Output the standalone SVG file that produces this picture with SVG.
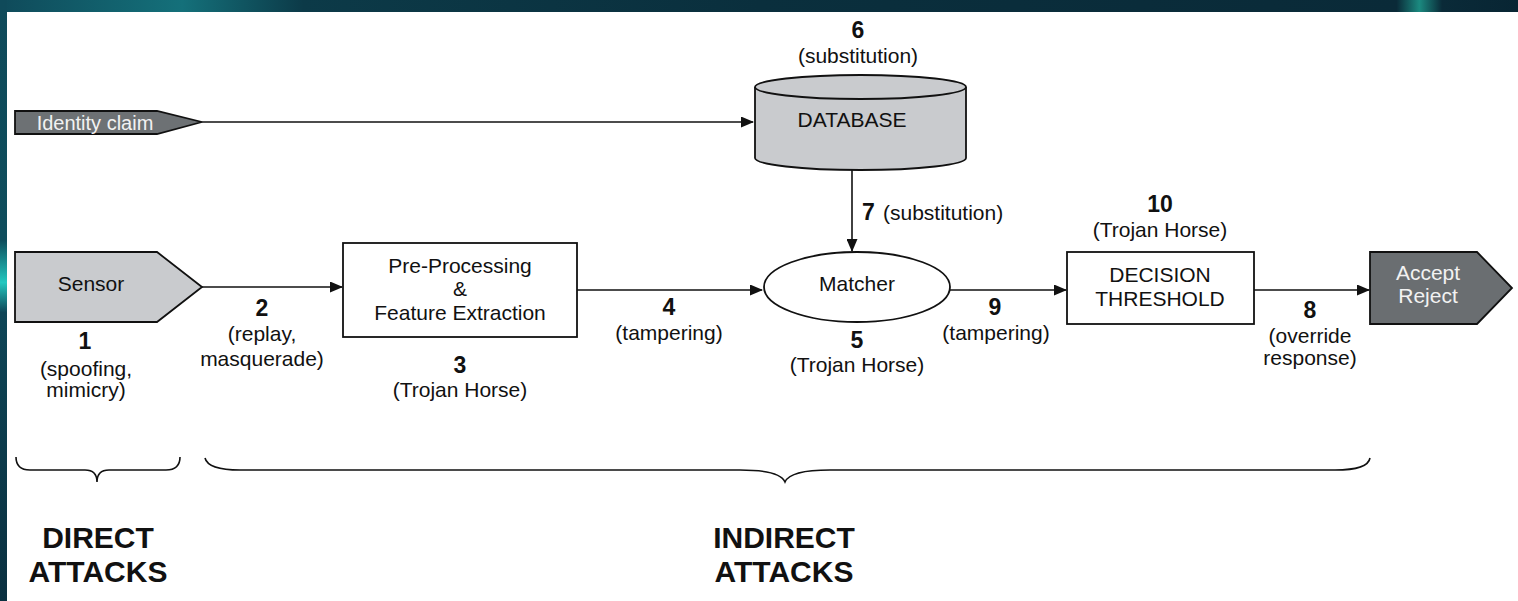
<svg xmlns="http://www.w3.org/2000/svg" width="1518" height="601" viewBox="0 0 1518 601">
<defs>
<marker id="arr" markerWidth="13" markerHeight="11" refX="12" refY="5.5" orient="auto" markerUnits="userSpaceOnUse">
<path d="M0,0 L13,5.5 L0,11 Z" fill="#111"/>
</marker>
<linearGradient id="band" x1="0" y1="0" x2="1" y2="0">
<stop offset="0" stop-color="#0f4a5a"/>
<stop offset="0.12" stop-color="#14707a"/>
<stop offset="0.2" stop-color="#0c3a48"/>
<stop offset="0.5" stop-color="#0a2f3d"/>
<stop offset="0.92" stop-color="#0a2a38"/>
<stop offset="0.935" stop-color="#1b8a80"/>
<stop offset="0.95" stop-color="#0a2a38"/>
<stop offset="1" stop-color="#082533"/>
</linearGradient>
<linearGradient id="side" x1="0" y1="0" x2="0" y2="1">
<stop offset="0" stop-color="#0f4a5a"/>
<stop offset="0.4" stop-color="#0e4d5c"/>
<stop offset="0.47" stop-color="#22c8c0"/>
<stop offset="0.52" stop-color="#0e4556"/>
<stop offset="1" stop-color="#0a3040"/>
</linearGradient>
<style>
text{font-family:"Liberation Sans",Arial,sans-serif;fill:#111;}
.lbl{font-size:21px;text-anchor:middle;}
.num{font-size:23px;font-weight:bold;text-anchor:middle;}
.big{font-size:30px;font-weight:bold;text-anchor:middle;}
.wt{fill:#f2f2f2;}
.edge{stroke:#111;stroke-width:1.6;fill:none;}
.node{stroke:#111;stroke-width:1.8;}
</style>
</defs>
<rect width="1518" height="601" fill="#ffffff"/>
<rect x="0" y="0" width="1518" height="12" fill="url(#band)"/>
<rect x="0" y="0" width="7" height="601" fill="url(#side)"/>

<g id="connectors">
<line class="edge" x1="202" y1="122" x2="753" y2="122" marker-end="url(#arr)"/>
<line class="edge" x1="852" y1="170" x2="852" y2="251" marker-end="url(#arr)"/>
<line class="edge" x1="202" y1="287" x2="342" y2="287" marker-end="url(#arr)"/>
<line class="edge" x1="577" y1="290" x2="762" y2="290" marker-end="url(#arr)"/>
<line class="edge" x1="950" y1="290" x2="1066" y2="290" marker-end="url(#arr)"/>
<line class="edge" x1="1254" y1="290" x2="1369" y2="290" marker-end="url(#arr)"/>
</g>

<g id="identity">
<path class="node" d="M15,111 L157,111 L202,122 L157,134 L15,134 Z" fill="#6d7174"/>
<text class="lbl wt" x="95" y="130" style="font-size:20px">Identity claim</text>
</g>

<g id="database">
<path class="node" d="M755,87 L755,158 A105.5,12 0 0 0 966,158 L966,87" fill="#c9cbce"/>
<ellipse class="node" cx="860.5" cy="87" rx="105.5" ry="12" fill="#c9cbce"/>
<text class="lbl" x="852" y="127">DATABASE</text>
<text class="num" x="858" y="38">6</text>
<text class="lbl" x="858" y="63">(substitution)</text>
<text x="862" y="220" style="font-size:23px;font-weight:bold">7</text>
<text x="883" y="220" style="font-size:21px">(substitution)</text>
</g>

<g id="sensor">
<path class="node" d="M15,252 L157,252 L202,287 L157,322 L15,322 Z" fill="#c9cbce"/>
<text class="lbl" x="91" y="291">Sensor</text>
<text class="num" x="85" y="349">1</text>
<text class="lbl" x="86" y="376">(spoofing,</text>
<text class="lbl" x="86" y="397">mimicry)</text>
</g>

<g id="label2">
<text class="num" x="262" y="316">2</text>
<text class="lbl" x="262" y="341">(replay,</text>
<text class="lbl" x="262" y="366">masquerade)</text>
</g>

<g id="preprocessing">
<rect class="node" x="343" y="243" width="234" height="94" fill="#ffffff"/>
<text class="lbl" x="460" y="273">Pre-Processing</text>
<text class="lbl" x="460" y="296">&amp;</text>
<text class="lbl" x="460" y="320">Feature Extraction</text>
<text class="num" x="460" y="373">3</text>
<text class="lbl" x="460" y="397">(Trojan Horse)</text>
</g>

<g id="label4">
<text class="num" x="669" y="315">4</text>
<text class="lbl" x="669" y="340">(tampering)</text>
</g>

<g id="matcher">
<ellipse class="node" cx="857" cy="287" rx="93" ry="35" fill="#ffffff"/>
<text class="lbl" x="857" y="291">Matcher</text>
<text class="num" x="857" y="348">5</text>
<text class="lbl" x="857" y="372">(Trojan Horse)</text>
</g>

<g id="label9">
<text class="num" x="995" y="315">9</text>
<text class="lbl" x="996" y="340">(tampering)</text>
</g>

<g id="decision">
<rect class="node" x="1067" y="252" width="187" height="72" fill="#ffffff"/>
<text class="lbl" x="1160" y="282">DECISION</text>
<text class="lbl" x="1160" y="306">THRESHOLD</text>
<text class="num" x="1160" y="212">10</text>
<text class="lbl" x="1160" y="237">(Trojan Horse)</text>
</g>

<g id="label8">
<text class="num" x="1310" y="318">8</text>
<text class="lbl" x="1310" y="343">(override</text>
<text class="lbl" x="1310" y="365">response)</text>
</g>

<g id="acceptreject">
<path class="node" d="M1370,252 L1477,252 L1512,288 L1477,324 L1370,324 Z" fill="#6a6e71"/>
<text class="lbl wt" x="1428" y="280">Accept</text>
<text class="lbl wt" x="1428" y="303">Reject</text>
</g>

<g id="direct">
<path class="edge" d="M16,457 Q16,470 30,470 L85,470 Q97,470 97,482 Q97,470 109,470 L166,470 Q180,470 180,457"/>
<text class="big" x="98" y="548">DIRECT</text>
<text class="big" x="98" y="582">ATTACKS</text>
</g>

<g id="indirect">
<path class="edge" d="M205,458 Q208,470 240,470 L740,470 Q780,470 785,482 Q790,470 830,470 L1335,470 Q1368,470 1370,458"/>
<text class="big" x="784" y="548">INDIRECT</text>
<text class="big" x="784" y="582">ATTACKS</text>
</g>
</svg>
